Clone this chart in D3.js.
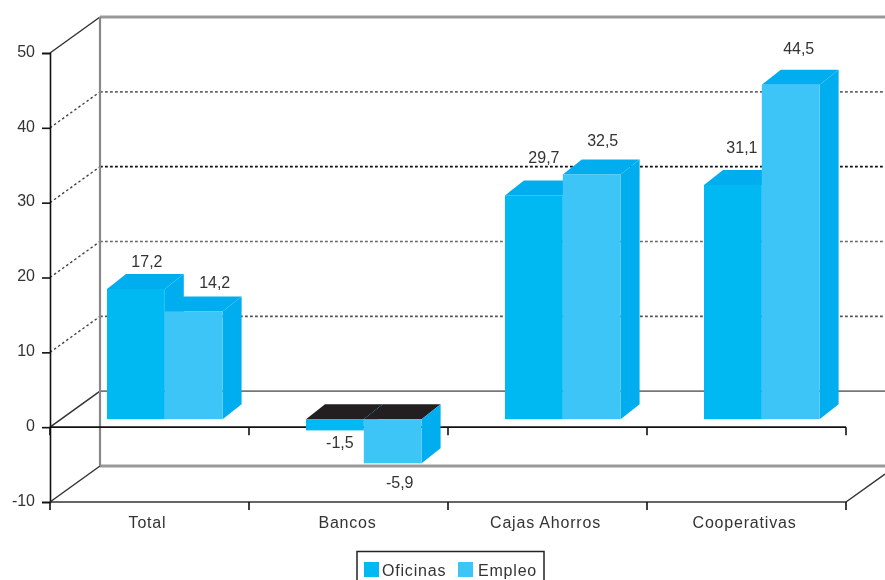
<!DOCTYPE html>
<html><head><meta charset="utf-8">
<script src="https://cdnjs.cloudflare.com/ajax/libs/d3/7.8.5/d3.min.js"></script>
<style>html,body{margin:0;padding:0;background:#fff}svg{display:block;filter:blur(.45px)}text{font-family:"Liberation Sans",Arial,sans-serif;fill:#333}</style>
</head><body><svg id="c" width="885" height="580"></svg>
<script>
const categories = ["Total","Bancos","Cajas Ahorros","Cooperativas"];
const seriesNames = ["Oficinas","Empleo"];
const oficinas = [17.2,-1.5,29.7,31.1];
const empleo = [14.2,-5.9,32.5,44.5];
const yTicks = [-10,0,10,20,30,40,50];
const frontColors = ["#00b9f2","#3dc5f7"];
const sideColor = "#00aeef";

const svg = d3.select("#c");
const y = d3.scaleLinear().domain([-10,50]).range([502,53]);
const x = d3.scaleBand().domain(categories).range([50,846]);
const wall = {dx:50,dy:-36}, barDepth = {dx:19,dy:-15}, barShift = -8, barTopShift = -9.5;
const fontSize = 16, wide = 0.8;

const line = (a,b,c,d,col,w,dash) => svg.append("line").attr("x1",a).attr("y1",b).attr("x2",c).attr("y2",d)
  .attr("stroke",col).attr("stroke-width",w).attr("stroke-dasharray",dash||null);
const gridCol = {10:"#555",20:"#666",30:"#111",40:"#666"};
yTicks.forEach(t=>{
  const yy=y(t);
  if(t>0 && t<50){
    line(50,yy,50+wall.dx,yy+wall.dy,"#444",1.4,"2.5 2.5");
    line(50+wall.dx,yy+wall.dy,885,yy+wall.dy,gridCol[t],1.6,"2.8 2.2");
  } else {
    line(50,yy,50+wall.dx,yy+wall.dy,"#333",1.5);
    line(50+wall.dx,yy+wall.dy,885,yy+wall.dy,t===0?"#777":"#999",t===0?1.8:2.8);
  }
});
line(100,y(50)+wall.dy,100,y(-10)+wall.dy,"#888",2.2);
line(846,y(-10),885,y(-10)-28,"#333",1.5);

const axisLeft = d3.axisLeft(y).tickValues(yTicks).tickSize(8).tickPadding(7).tickFormat(d=>String(d));
const gy = svg.append("g").attr("transform","translate(50,0)").call(axisLeft);
gy.selectAll("path,line").attr("stroke","#111").attr("stroke-width",1.6);
gy.selectAll("text").attr("font-size",fontSize).attr("dy","0.2em");

[0,-10].forEach(v=>{
  const a = d3.axisBottom(x).tickSize(8).tickFormat("");
  const g = svg.append("g").attr("transform",`translate(0,${y(v)})`).call(a);
  g.selectAll(".tick").remove();
  g.select("path").attr("stroke",v===0?"#111":"#333").attr("stroke-width",1.6).attr("d",`M50,0H846`);
  const ticks = d3.range(5).map(i=>x.range()[0]+i*x.step());
  g.selectAll("line.t").data(ticks).enter().append("line").attr("class","t")
    .attr("x1",d=>d).attr("x2",d=>d).attr("y1",0).attr("y2",8).attr("stroke","#111").attr("stroke-width",1.6);
});

const barW = 57.8;
const barX = (i,s)=> x(categories[i]) + x.bandwidth()/2 - barW + 15.3 + s*barW;
function bar(i,s,v){
  const x0=barX(i,s), x1=x0+barW, y0=y(0)+barShift, yv=y(v)+(v>0?barTopShift:barShift);
  const top=Math.min(y0,yv), bot=Math.max(y0,yv);
  const d=barDepth;
  const g=svg.append("g");
  g.append("polygon").attr("points",[[x0,top],[x0+d.dx,top+d.dy],[x1+d.dx,top+d.dy],[x1,top]].join(" "))
    .attr("fill",v<0?"#231f20":sideColor);
  g.append("polygon").attr("points",[[x1,top],[x1+d.dx,top+d.dy],[x1+d.dx,bot+d.dy],[x1,bot]].join(" ")).attr("fill",sideColor);
  g.append("rect").attr("x",x0).attr("y",top).attr("width",barW).attr("height",bot-top).attr("fill",frontColors[s]);
}
categories.forEach((c,i)=>{ bar(i,0,oficinas[i]); bar(i,1,empleo[i]); });

const fmt = v => String(v).replace(".",",");
const labelDx = [[11,21],[5,7],[10,11],[9,8]];
const labelDy = [[-23.5,-25],[18,25],[-34,-30],[-33,-32]];
categories.forEach((c,i)=>{
  [oficinas,empleo].forEach((arr,s)=>{
    const v=arr[i];
    svg.append("text").attr("x",barX(i,s)+barW/2+labelDx[i][s])
      .attr("y",y(v)+barShift+labelDy[i][s]).attr("text-anchor","middle")
      .attr("font-size",fontSize).text(fmt(v));
  });
});

const catDx = [-4,1,0,0];
categories.forEach((c,i)=>{
  svg.append("text").attr("x",x(c)+x.bandwidth()/2-2+catDx[i]+ (i===0?4:0)).attr("y",528).attr("text-anchor","middle")
    .attr("font-size",fontSize).attr("letter-spacing",wide).text(c);
});

svg.append("rect").attr("x",357).attr("y",551.5).attr("width",187).attr("height",34).attr("fill","#fff").attr("stroke","#222").attr("stroke-width",1.5);
const lx=[364,458];
seriesNames.forEach((n,i)=>{
  svg.append("rect").attr("x",lx[i]).attr("y",562).attr("width",15).attr("height",15).attr("fill",frontColors[i]);
  svg.append("text").attr("x",lx[i]+(i?20:18)).attr("y",576).attr("font-size",fontSize).attr("letter-spacing",wide).text(n);
});
</script></body></html>
